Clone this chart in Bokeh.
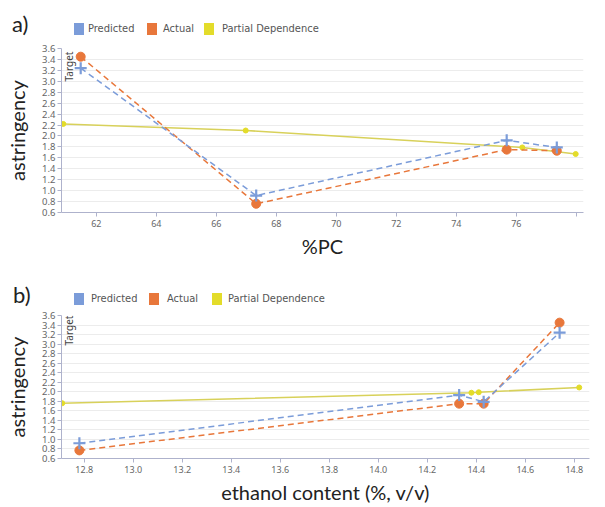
import math
from bokeh.plotting import figure
from bokeh.models import Range1d, FixedTicker, NumeralTickFormatter, Label, Div
from bokeh.layouts import column
from bokeh.embed import file_html
from bokeh.resources import INLINE

BLUE = "#7b9cd9"
ORANGE = "#e8773b"
YELLOW = "#e3dc2a"
YLINE = "#d8d15a"
AXIS = "#aeb2cc"

series_names = ["Predicted", "Actual", "Partial Dependence"]
series_colors = [BLUE, ORANGE, YELLOW]
y_ticks = [0.6, 0.8, 1.0, 1.2, 1.4, 1.6, 1.8, 2.0, 2.2, 2.4, 2.6, 2.8, 3.0, 3.2, 3.4, 3.6]

# panel a) : %PC
a_x = [61.48, 67.33, 75.68, 77.35]
a_pred = [3.24, 0.91, 1.92, 1.79]
a_act = [3.45, 0.76, 1.75, 1.73]
a_pd_x = [60.9, 66.98, 76.2, 77.98]
a_pd = [2.22, 2.10, 1.79, 1.67]
a_xticks = [62, 64, 66, 68, 70, 72, 74, 76, 78]
a_xlabels = {62: "62", 64: "64", 66: "66", 68: "68", 70: "70", 72: "72", 74: "74", 76: "76", 78: ""}

# panel b) : ethanol content
b_x = [12.78, 14.33, 14.43, 14.74]
b_pred = [0.92, 1.93, 1.79, 3.24]
b_act = [0.77, 1.75, 1.75, 3.45]
b_pd_x = [12.71, 14.38, 14.41, 14.82]
b_pd = [1.76, 1.98, 1.99, 2.09]
b_xticks = [12.8, 13.0, 13.2, 13.4, 13.6, 13.8, 14.0, 14.2, 14.4, 14.6, 14.8]

LEG_FONT = "'Liberation Sans Narrow','DejaVu Sans Condensed','Noto Sans',sans-serif"


def header(tag, width, height, tag_left, tag_top, leg_top, sq_lefts, txt_lefts):
    parts = [f'<div style="position:relative;width:{width}px;height:{height}px;">']
    parts.append(f'<span style="position:absolute;left:{tag_left}px;top:{tag_top}px;'
                 f'font-family:Lato;font-size:22px;line-height:22px;color:#222;">{tag}</span>')
    for name, col, sl, tl in zip(series_names, series_colors, sq_lefts, txt_lefts):
        parts.append(f'<span style="position:absolute;left:{sl}px;top:{leg_top}px;width:10px;'
                     f'height:12px;background:{col};"></span>')
        parts.append(f'<span style="position:absolute;left:{tl}px;top:{leg_top}px;'
                     f'font-family:{LEG_FONT};font-size:11px;line-height:12px;color:#555;'
                     f'white-space:nowrap;">{name}</span>')
    parts.append('</div>')
    return Div(text="".join(parts), width=width, height=height, margin=0)


def make_panel(xlabel, xs, pred, act, pdx, pd, xr, xticks, xfmt, overrides,
               width, height, border_bottom, border_right):
    p = figure(width=width, height=height, output_backend="svg", toolbar_location=None,
               x_range=Range1d(*xr), y_range=Range1d(0.6, 3.6),
               min_border_left=61, min_border_right=border_right,
               min_border_top=6, min_border_bottom=border_bottom, margin=0)
    p.outline_line_color = None
    p.xgrid.visible = False
    p.ygrid.grid_line_color = "#ececec"
    p.ygrid.ticker = FixedTicker(ticks=y_ticks)

    p.yaxis.ticker = FixedTicker(ticks=y_ticks)
    p.yaxis.formatter = NumeralTickFormatter(format="0.0")
    p.xaxis.ticker = FixedTicker(ticks=xticks)
    p.xaxis.formatter = NumeralTickFormatter(format=xfmt)
    if overrides:
        p.xaxis.major_label_overrides = overrides
    for ax in (p.xaxis[0], p.yaxis[0]):
        ax.axis_line_color = AXIS
        ax.major_tick_line_color = AXIS
        ax.minor_tick_line_color = None
        ax.major_tick_out = 4
        ax.major_tick_in = 0
        ax.major_label_text_font = "Noto Sans"
        ax.major_label_text_color = "#666666"
        ax.axis_label_text_font = "Lato"
        ax.axis_label_text_font_size = "20px"
        ax.axis_label_text_font_style = "normal"
        ax.axis_label_text_color = "#222222"
    p.yaxis.major_label_text_font_size = "9.5px"
    p.xaxis.major_label_text_font_size = "9px"
    p.yaxis.major_label_standoff = 2
    p.xaxis.major_label_standoff = 3
    p.yaxis.axis_label = "astringency"
    p.yaxis.axis_label_standoff = 10
    p.xaxis.axis_label = xlabel
    p.xaxis.axis_label_standoff = 4

    # partial dependence
    p.line(pdx, pd, line_color=YLINE, line_width=1.6)
    p.scatter(pdx, pd, marker="circle", size=5, fill_color=YELLOW, line_color=YELLOW)
    # actual
    p.line(xs, act, line_color=ORANGE, line_width=1.5, line_dash="6 4")
    p.scatter(xs, act, marker="circle", size=9, fill_color=ORANGE, line_color=ORANGE)
    # predicted
    p.line(xs, pred, line_color=BLUE, line_width=1.5, line_dash="6 4")
    p.scatter(xs, pred, marker="cross", size=12, line_color=BLUE, line_width=2.2)

    fh = height - 6 - border_bottom
    p.add_layout(Label(x=7, y=fh - 18, x_units="screen", y_units="screen", text="Target",
                       angle=math.pi / 2, text_align="center", text_baseline="middle",
                       text_font="Noto Sans", text_font_size="10px", text_color="#444444"))
    return p


div_a = header("a)", 597, 42, 12, 13, 23, [74, 147, 204], [88, 163, 222])
pa = make_panel("%PC", a_x, a_pred, a_act, a_pd_x, a_pd, (60.84, 78.24),
                a_xticks, "0", a_xlabels, 597, 221, 51, 14)
div_b = header("b)", 603, 46, 13, 21, 30, [74, 149, 212], [91, 167, 228])
pb = make_panel("ethanol content (%, v/v)", b_x, b_pred, b_act, b_pd_x, b_pd,
                (12.707, 14.862), b_xticks, "0.0", None, 603, 197, 45, 0)

layout = column(div_a, pa, div_b, pb, spacing=0)
open("out.html", "w").write(file_html(layout, INLINE))
